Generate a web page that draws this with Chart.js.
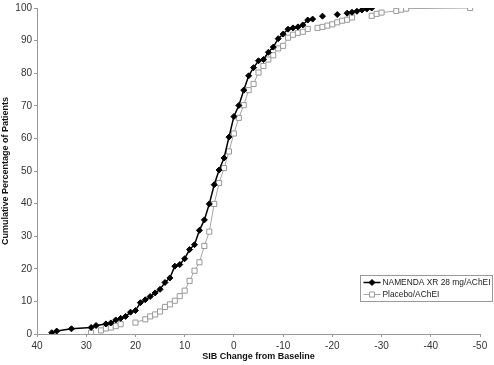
<!DOCTYPE html>
<html>
<head>
<meta charset="utf-8">
<script src="https://cdn.jsdelivr.net/npm/chart.js@4.4.1/dist/chart.umd.min.js"></script>
<style>
  html, body { margin: 0; padding: 0; background: #fff; }
  #wrap { position: relative; width: 494px; height: 365px; }
</style>
</head>
<body>
<div id="wrap"><canvas id="sibChart" width="494" height="365"></canvas></div>
<script>
// SIB change from baseline (x) vs cumulative % of patients (y)
const namendaLabel = 'NAMENDA XR 28 mg/AChEI';
const namendaChange = [37, 36, 33, 29, 28, 26, 25, 24, 23, 22, 21, 20, 19, 18, 17, 16, 15, 14, 13, 12, 11, 10, 9, 8, 7, 6, 5, 4,
  3, 2, 1, 0, -1, -2, -3, -4, -5, -6, -7, -8, -9, -10, -11, -12, -13, -14, -15, -16,
  -18, -21, -23, -24, -25, -26, -27, -28];
const namendaPct = [0.4, 0.9, 1.6, 2.0, 2.6, 3.1, 3.4, 4.3, 4.8, 5.4, 6.7, 7.2, 9.6, 10.5, 11.5, 12.6, 13.7, 15.8, 17.2, 20.8, 21.3, 23.1, 25.9, 27.4, 31.8, 35.0, 39.9, 45.8,
  50.3, 54.0, 60.4, 66.7, 70.1, 74.8, 79.2, 81.7, 83.8, 84.2, 86.4, 88.0, 90.6, 92.0, 93.5, 93.9, 94.2, 94.8, 96.3, 96.6,
  97.5, 98.0, 98.4, 98.7, 99.0, 99.4, 99.7, 100];

const placeboLabel = 'Placebo/AChEI';
const placeboChange = [29, 27, 26, 25, 24, 23, 20, 18, 17, 16, 15, 14, 13, 12, 11, 10, 9, 8, 7, 6, 5, 4, 3,
  2, 1, 0, -1, -2, -3, -4, -5, -6, -7, -8, -9, -10, -11, -12, -13, -14, -15,
  -17, -18, -19, -20, -21, -22, -23, -24, -28, -29, -30, -33, -34, -35, -48];
const placeboPct = [0.4, 1.1, 1.7, 2.0, 2.4, 3.0, 3.5, 4.5, 5.4, 6.0, 6.9, 8.3, 9.1, 10.2, 11.6, 13.3, 16.3, 19.4, 22.0, 27.0, 31.4, 39.9, 46.3,
  50.9, 56.0, 61.5, 66.3, 70.2, 74.8, 76.7, 80.2, 82.2, 84.2, 85.5, 87.6, 88.4, 90.9, 91.8, 92.4, 92.7, 93.6,
  93.9, 94.2, 94.6, 95.0, 95.6, 96.1, 96.4, 97.1, 97.6, 98.2, 98.6, 99.1, 99.5, 99.8, 100];

const xTicks = [40, 30, 20, 10, 0, -10, -20, -30, -40, -50];

const toPoints = (xs, ys) => xs.map((x, i) => ({ x: x, y: ys[i] }));

// segments the original plot leaves unconnected
const inGap = (ctx, gaps) => {
  const a = ctx.p0.parsed.x, b = ctx.p1.parsed.x;
  return gaps.some(g => a >= g[0] && a <= g[1] && b >= g[0] && b <= g[1]);
};

Chart.defaults.font.family = '"Liberation Sans", Arial, sans-serif';
Chart.defaults.color = '#333';

// legend box drawn inside the plot, lower right
const boxLegend = {
  id: 'boxLegend',
  afterDraw(chart) {
    const ctx = chart.ctx;
    const x = 360.5, y = 275.5, w = 132, h = 26;
    ctx.save();
    ctx.strokeStyle = '#999';
    ctx.lineWidth = 1;
    ctx.strokeRect(x, y, w, h);
    ctx.font = '8.4px "Liberation Sans", Arial, sans-serif';
    ctx.textBaseline = 'middle';
    chart.data.datasets.forEach((ds, i) => {
      const ly = y + 7 + i * 12;
      ctx.strokeStyle = ds.borderColor;
      ctx.lineWidth = ds.borderWidth;
      ctx.beginPath();
      ctx.moveTo(x + 3, ly);
      ctx.lineTo(x + 20, ly);
      ctx.stroke();
      ctx.fillStyle = ds.pointBackgroundColor;
      ctx.strokeStyle = ds.pointBorderColor;
      ctx.lineWidth = 1;
      Chart.helpers.drawPoint(ctx, {
        pointStyle: ds.pointStyle, radius: ds.pointRadius, borderWidth: 1
      }, x + 11.5, ly);
      ctx.fillStyle = '#222';
      ctx.fillText(ds.label, x + 22, ly + 0.5);
    });
    ctx.restore();
  }
};

new Chart(document.getElementById('sibChart'), {
  type: 'line',
  data: {
    datasets: [
      {
        label: namendaLabel,
        data: toPoints(namendaChange, namendaPct),
        borderColor: '#000',
        borderWidth: 1.5,
        pointStyle: 'rectRot',
        pointRadius: 3,
        pointBackgroundColor: '#000',
        pointBorderColor: '#000',
        pointBorderWidth: 1,
        tension: 0,
        segment: { borderColor: ctx => inGap(ctx, [[-28, -16]]) ? 'rgba(0,0,0,0)' : undefined }
      },
      {
        label: placeboLabel,
        data: toPoints(placeboChange, placeboPct),
        borderColor: '#a6a6a6',
        borderWidth: 1,
        pointStyle: 'rect',
        pointRadius: 3.6,
        pointBackgroundColor: '#fff',
        pointBorderColor: '#999',
        pointBorderWidth: 1,
        tension: 0,
        segment: { borderColor: ctx => inGap(ctx, [[20, 29], [-28, -15]]) ? 'rgba(0,0,0,0)' : undefined }
      }
    ]
  },
  options: {
    responsive: false,
    animation: false,
    layout: { padding: { top: 4, right: 14, left: 0, bottom: 0 } },
    plugins: { legend: { display: false }, tooltip: { enabled: false } },
    scales: {
      x: {
        type: 'linear',
        reverse: true,
        min: -50,
        max: 40,
        afterBuildTicks: s => { s.ticks = xTicks.map(v => ({ value: v })); },
        afterFit: s => { s.height = 31; },
        grid: { drawOnChartArea: false, drawTicks: true, tickLength: 3, color: '#999' },
        border: { display: true, color: '#999' },
        ticks: { font: { size: 10 }, padding: 3, maxRotation: 0 },
        title: {
          display: true,
          text: 'SIB Change from Baseline',
          font: { size: 9, weight: 'bold' },
          color: '#111',
          padding: { top: 0, bottom: 3 }
        }
      },
      y: {
        min: 0,
        max: 100,
        afterFit: s => { s.width = 37; },
        grid: { drawOnChartArea: false, drawTicks: true, tickLength: 3, color: '#999' },
        border: { display: true, color: '#999' },
        ticks: { stepSize: 10, font: { size: 10 }, padding: 2 },
        title: {
          display: true,
          text: 'Cumulative Percentage of Patients',
          font: { size: 9, weight: 'bold' },
          color: '#111',
          padding: { top: 0, bottom: 0 }
        }
      }
    }
  },
  plugins: [boxLegend]
});
</script>
</body>
</html>
